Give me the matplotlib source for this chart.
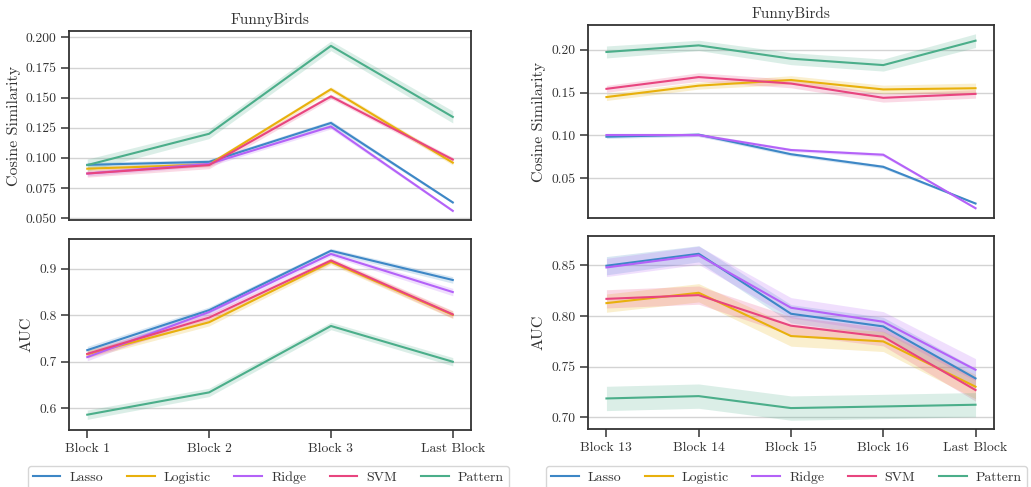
import matplotlib
matplotlib.use("Agg")
import matplotlib.pyplot as plt
from matplotlib.ticker import FormatStrFormatter, MultipleLocator

methods = ["Lasso", "Logistic", "Ridge", "SVM", "Pattern"]
colors = ["#3d87c6", "#e8b00c", "#b462f8", "#e8457f", "#4bae8a"]

# left: early blocks
blocks_left = ["Block 1", "Block 2", "Block 3", "Last Block"]
cos_left = {
    "Lasso":    [0.0942, 0.0967, 0.129, 0.063],
    "Logistic": [0.091, 0.0945, 0.157, 0.096],
    "Ridge":    [0.087, 0.095, 0.126, 0.056],
    "SVM":      [0.087, 0.094, 0.151, 0.0986],
    "Pattern":  [0.094, 0.120, 0.193, 0.134],
}
cos_left_err = {
    "Lasso":    [0.002, 0.002, 0.002, 0.001],
    "Logistic": [0.002, 0.002, 0.002, 0.002],
    "Ridge":    [0.002, 0.002, 0.002, 0.001],
    "SVM":      [0.003, 0.003, 0.002, 0.002],
    "Pattern":  [0.005, 0.004, 0.004, 0.005],
}
auc_left = {
    "Lasso":    [0.725, 0.811, 0.939, 0.876],
    "Logistic": [0.716, 0.785, 0.915, 0.801],
    "Ridge":    [0.710, 0.807, 0.932, 0.850],
    "SVM":      [0.717, 0.795, 0.918, 0.802],
    "Pattern":  [0.586, 0.634, 0.777, 0.700],
}
auc_left_err = {
    "Lasso":    [0.008, 0.007, 0.005, 0.007],
    "Logistic": [0.008, 0.008, 0.006, 0.008],
    "Ridge":    [0.008, 0.007, 0.005, 0.008],
    "SVM":      [0.008, 0.008, 0.006, 0.008],
    "Pattern":  [0.010, 0.009, 0.008, 0.009],
}

# right: late blocks
blocks_right = ["Block 13", "Block 14", "Block 15", "Block 16", "Last Block"]
cos_right = {
    "Lasso":    [0.0984, 0.1008, 0.078, 0.0633, 0.0205],
    "Logistic": [0.1447, 0.158, 0.1646, 0.1536, 0.155],
    "Ridge":    [0.1004, 0.1004, 0.0829, 0.0774, 0.015],
    "SVM":      [0.1543, 0.168, 0.1605, 0.1438, 0.1484],
    "Pattern":  [0.1973, 0.205, 0.1895, 0.182, 0.2105],
}
cos_right_err = {
    "Lasso":    [0.002, 0.002, 0.002, 0.002, 0.001],
    "Logistic": [0.004, 0.004, 0.005, 0.005, 0.006],
    "Ridge":    [0.002, 0.002, 0.002, 0.002, 0.001],
    "SVM":      [0.004, 0.005, 0.005, 0.005, 0.005],
    "Pattern":  [0.007, 0.006, 0.007, 0.007, 0.008],
}
auc_right = {
    "Lasso":    [0.8497, 0.8615, 0.8023, 0.7898, 0.7385],
    "Logistic": [0.8128, 0.823, 0.7803, 0.775, 0.7303],
    "Ridge":    [0.848, 0.860, 0.8082, 0.7944, 0.747],
    "SVM":      [0.817, 0.8207, 0.7905, 0.7796, 0.727],
    "Pattern":  [0.7187, 0.721, 0.7092, 0.7108, 0.7125],
}
auc_right_err = {
    "Lasso":    [0.009, 0.008, 0.009, 0.009, 0.010],
    "Logistic": [0.009, 0.009, 0.010, 0.010, 0.012],
    "Ridge":    [0.009, 0.009, 0.010, 0.010, 0.011],
    "SVM":      [0.009, 0.009, 0.009, 0.009, 0.011],
    "Pattern":  [0.012, 0.012, 0.012, 0.012, 0.012],
}

plt.rcParams["font.family"] = ["cmr10", "DejaVu Serif"]
plt.rcParams["mathtext.fontset"] = "cm"
plt.rcParams["axes.unicode_minus"] = False

fig = plt.figure(figsize=(10.31, 4.87), dpi=100)


def style(ax):
    for s in ax.spines.values():
        s.set_color("#333333")
        s.set_linewidth(1.3)
    ax.grid(axis="y", color="#d3d3d3", lw=1.0)
    ax.set_axisbelow(True)
    ax.tick_params(axis="both", direction="out", length=6, width=1.1, pad=3,
                   color="#333333", labelsize=9.8, labelcolor="#333333")


def panel(ax, labels, vals, errs):
    x = list(range(len(labels)))
    for m, c in zip(methods, colors):
        lo = [v - e for v, e in zip(vals[m], errs[m])]
        hi = [v + e for v, e in zip(vals[m], errs[m])]
        ax.fill_between(x, lo, hi, color=c, alpha=0.2, lw=0)
        ax.plot(x, vals[m], color=c, lw=1.5, label=m)
    ax.set_xticks(x)
    ax.set_xlim(-0.05 * (len(x) - 1), (len(x) - 1) * 1.05)


# left column
axL1 = fig.add_axes([0.0669, 0.548, 0.390, 0.388])
axL2 = fig.add_axes([0.0669, 0.117, 0.390, 0.392])
panel(axL1, blocks_left, cos_left, cos_left_err)
panel(axL2, blocks_left, auc_left, auc_left_err)
axL1.set_ylim(0.0483, 0.2052)
axL1.yaxis.set_major_locator(MultipleLocator(0.025))
axL1.yaxis.set_major_formatter(FormatStrFormatter("%.3f"))
axL1.set_xticks([])
axL1.set_title("FunnyBirds", fontsize=11, color="#333333", pad=5)
axL1.set_ylabel("Cosine Similarity", fontsize=11.5, color="#333333", labelpad=3)
axL2.set_ylim(0.553, 0.964)
axL2.yaxis.set_major_locator(MultipleLocator(0.1))
axL2.yaxis.set_major_formatter(FormatStrFormatter("%.1f"))
axL2.set_xticklabels(blocks_left)
axL2.set_ylabel("AUC", fontsize=11.5, color="#333333", labelpad=4)

# right column
axR1 = fig.add_axes([0.5703, 0.5524, 0.3938, 0.3963])
axR2 = fig.add_axes([0.5703, 0.119, 0.3938, 0.3963])
panel(axR1, blocks_right, cos_right, cos_right_err)
panel(axR2, blocks_right, auc_right, auc_right_err)
axR1.set_ylim(0.0036, 0.2288)
axR1.set_yticks([0.05, 0.10, 0.15, 0.20])
axR1.yaxis.set_major_formatter(FormatStrFormatter("%.2f"))
axR1.set_xticks([])
axR1.set_title("FunnyBirds", fontsize=11, color="#333333", pad=5)
axR1.set_ylabel("Cosine Similarity", fontsize=11.5, color="#333333", labelpad=4)
axR2.set_ylim(0.6885, 0.879)
axR2.set_yticks([0.70, 0.75, 0.80, 0.85])
axR2.yaxis.set_major_formatter(FormatStrFormatter("%.2f"))
axR2.set_xticklabels(blocks_right)
axR2.set_ylabel("AUC", fontsize=11.5, color="#333333", labelpad=4)

for ax in (axL1, axL2, axR1, axR2):
    style(ax)

h, l = axL2.get_legend_handles_labels()
for anchor in (0.027, 0.5296):
    leg = fig.legend(h, l, loc="upper left", bbox_to_anchor=(anchor, 0.043),
                     ncol=5, fontsize=10, frameon=True, fancybox=True,
                     handlelength=2.0, handletextpad=0.65, columnspacing=1.7,
                     borderaxespad=0, borderpad=0.35)
    leg.get_frame().set_edgecolor("#cccccc")
    for t in leg.get_texts():
        t.set_color("#333333")

fig.savefig("out.png", dpi=100)
